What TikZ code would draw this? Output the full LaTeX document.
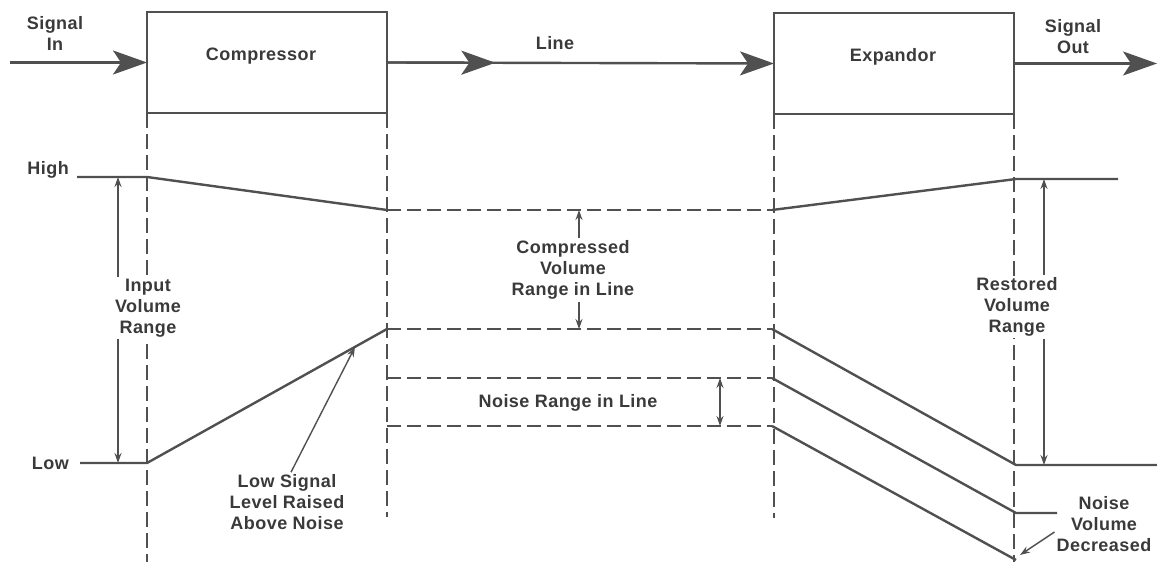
\documentclass[tikz,border=0pt]{standalone}
\usepackage{fontspec}
\setmainfont{Liberation Sans}[LetterSpace=2.5]
\usetikzlibrary{arrows.meta,positioning,calc}
\definecolor{ink}{HTML}{505050}
\definecolor{txt}{HTML}{3A3A3A}
\tikzset{
  unitbox/.style={
    rectangle, draw=ink, line width=2.4pt,
    minimum width=240pt, minimum height=101pt,
    inner sep=0pt, outer sep=0pt
  },
  lbl/.style={
    font=\fontsize{18}{21}\selectfont\bfseries, text=txt,
    align=center, inner sep=2pt
  },
  sigarrow/.style={
    -{Stealth[length=34pt, width=24pt, inset=8pt]}, draw=ink, line width=2.4pt
  },
  level/.style={draw=ink, line width=2.4pt, line join=round},
  dashlevel/.style={draw=ink, line width=2pt, dash pattern=on 14pt off 6pt},
  divider/.style={draw=ink, line width=2pt, dash pattern=on 15pt off 6pt},
  rangearrow/.style={
    -{Stealth[length=10pt, width=7pt]}, draw=ink, line width=1.4pt
  },
}

\begin{document}
\begin{tikzpicture}[x=1pt, y=-1pt]
  \useasboundingbox (0,0) rectangle (1157,562);
  \node[unitbox] (comp) at (267,62.5) {};
  \node[unitbox] (exp) at (894,63.5) {};
  \node[lbl] (comptxt) at (261,56) {Compressor};
  \node[lbl] (exptxt) at (893,57) {Expandor};
  \node[lbl] (sigin) at (55,33) {Signal\\In};
  \node[lbl] (linetxt) at (555,43) {Line};
  \node[lbl] (sigout) at (1073,37) {Signal\\Out};
  \coordinate (sin) at (10,62.5);
  \coordinate (sout) at (1157,63.5);
  \draw[sigarrow] (sin) -- (comp.west);
  \draw[sigarrow] (comp.east) -- ($(comp.east)!0.28!(exp.west)$);
  \draw[sigarrow] (comp.east) -- (exp.west);
  \draw[sigarrow] (exp.east) -- (sout);
  \draw[divider] (comp.south west) -- ++(0,449);
  \draw[divider] (comp.south east) -- ++(0,404);
  \draw[divider] (exp.south west) -- ++(0,404);
  \draw[divider] (exp.south east) -- ++(0,449);
  \coordinate (hiL) at (77,177);   \coordinate (hiA) at (147,177);
  \coordinate (hiB) at (387,210);  \coordinate (hiC) at (772,210);
  \coordinate (hiD) at (1016,179); \coordinate (hiR) at (1118,179);
  \coordinate (loL) at (80,463);   \coordinate (loA) at (147,463);
  \coordinate (loB) at (387,329);  \coordinate (loC) at (772,329);
  \coordinate (loD) at (1016,465); \coordinate (loR) at (1157,465);
  \coordinate (nuB) at (387,378);  \coordinate (nuC) at (772,378);
  \coordinate (nuD) at (1016,513); \coordinate (nuR) at (1057,513);
  \coordinate (nlB) at (387,426);  \coordinate (nlC) at (772,426);
  \coordinate (nlD) at (1016,560);
  \draw[level] (hiL) -- (hiA) -- (hiB);
  \draw[dashlevel] (hiB) -- (hiC);
  \draw[level] (hiC) -- (hiD) -- (hiR);
  \draw[level] (loL) -- (loA) -- (loB);
  \draw[dashlevel] (loB) -- (loC);
  \draw[level] (loC) -- (loD) -- (loR);
  \draw[dashlevel] (nuB) -- (nuC);
  \draw[level] (nuC) -- (nuD) -- (nuR);
  \draw[dashlevel] (nlB) -- (nlC);
  \draw[level] (nlC) -- (nlD);
  \node[lbl, anchor=east] (high) at (71,170) {High};
  \node[lbl, anchor=east] (low) at (71,463) {Low};
  \node[lbl, fill=white] (inrange) at (148,308) {Input\\Volume\\Range};
  \node[lbl] (comprange) at (573,270) {Compressed\\Volume\\Range in Line};
  \node[lbl] (noiserange) at (568,403) {Noise Range in Line};
  \node[lbl, fill=white] (restrange) at (1017,307) {Restored\\Volume\\Range};
  \node[lbl] (lowsig) at (287,502) {Low Signal\\Level Raised\\Above Noise};
  \node[lbl] (noisedec) at (1104,524) {Noise\\Volume\\Decreased};
  \coordinate (inH) at (118,177);  \coordinate (inL) at (118,463);
  \coordinate (cmH) at (579,210);  \coordinate (cmL) at (579,329);
  \coordinate (nrH) at (720,378);  \coordinate (nrL) at (720,426);
  \coordinate (rsH) at (1044,179); \coordinate (rsL) at (1044,465);
  \coordinate (lsT) at (355,347);  \coordinate (ndT) at (1020,555);
  \draw[rangearrow] (inrange.north -| inH) -- (inH);
  \draw[rangearrow] (inrange.south -| inL) -- (inL);
  \draw[rangearrow] (comprange.north -| cmH) -- (cmH);
  \draw[rangearrow] (comprange.south -| cmL) -- (cmL);
  \draw[rangearrow, {Stealth[length=10pt, width=7pt]}-{Stealth[length=10pt, width=7pt]}] (nrH) -- (nrL);
  \draw[rangearrow] (restrange.north -| rsH) -- (rsH);
  \draw[rangearrow] (restrange.south -| rsL) -- (rsL);
  \draw[rangearrow] ([xshift=4pt]lowsig.north) -- (lsT);
  \draw[rangearrow] ([yshift=-8pt]noisedec.west) -- (ndT);
\end{tikzpicture}
\end{document}
